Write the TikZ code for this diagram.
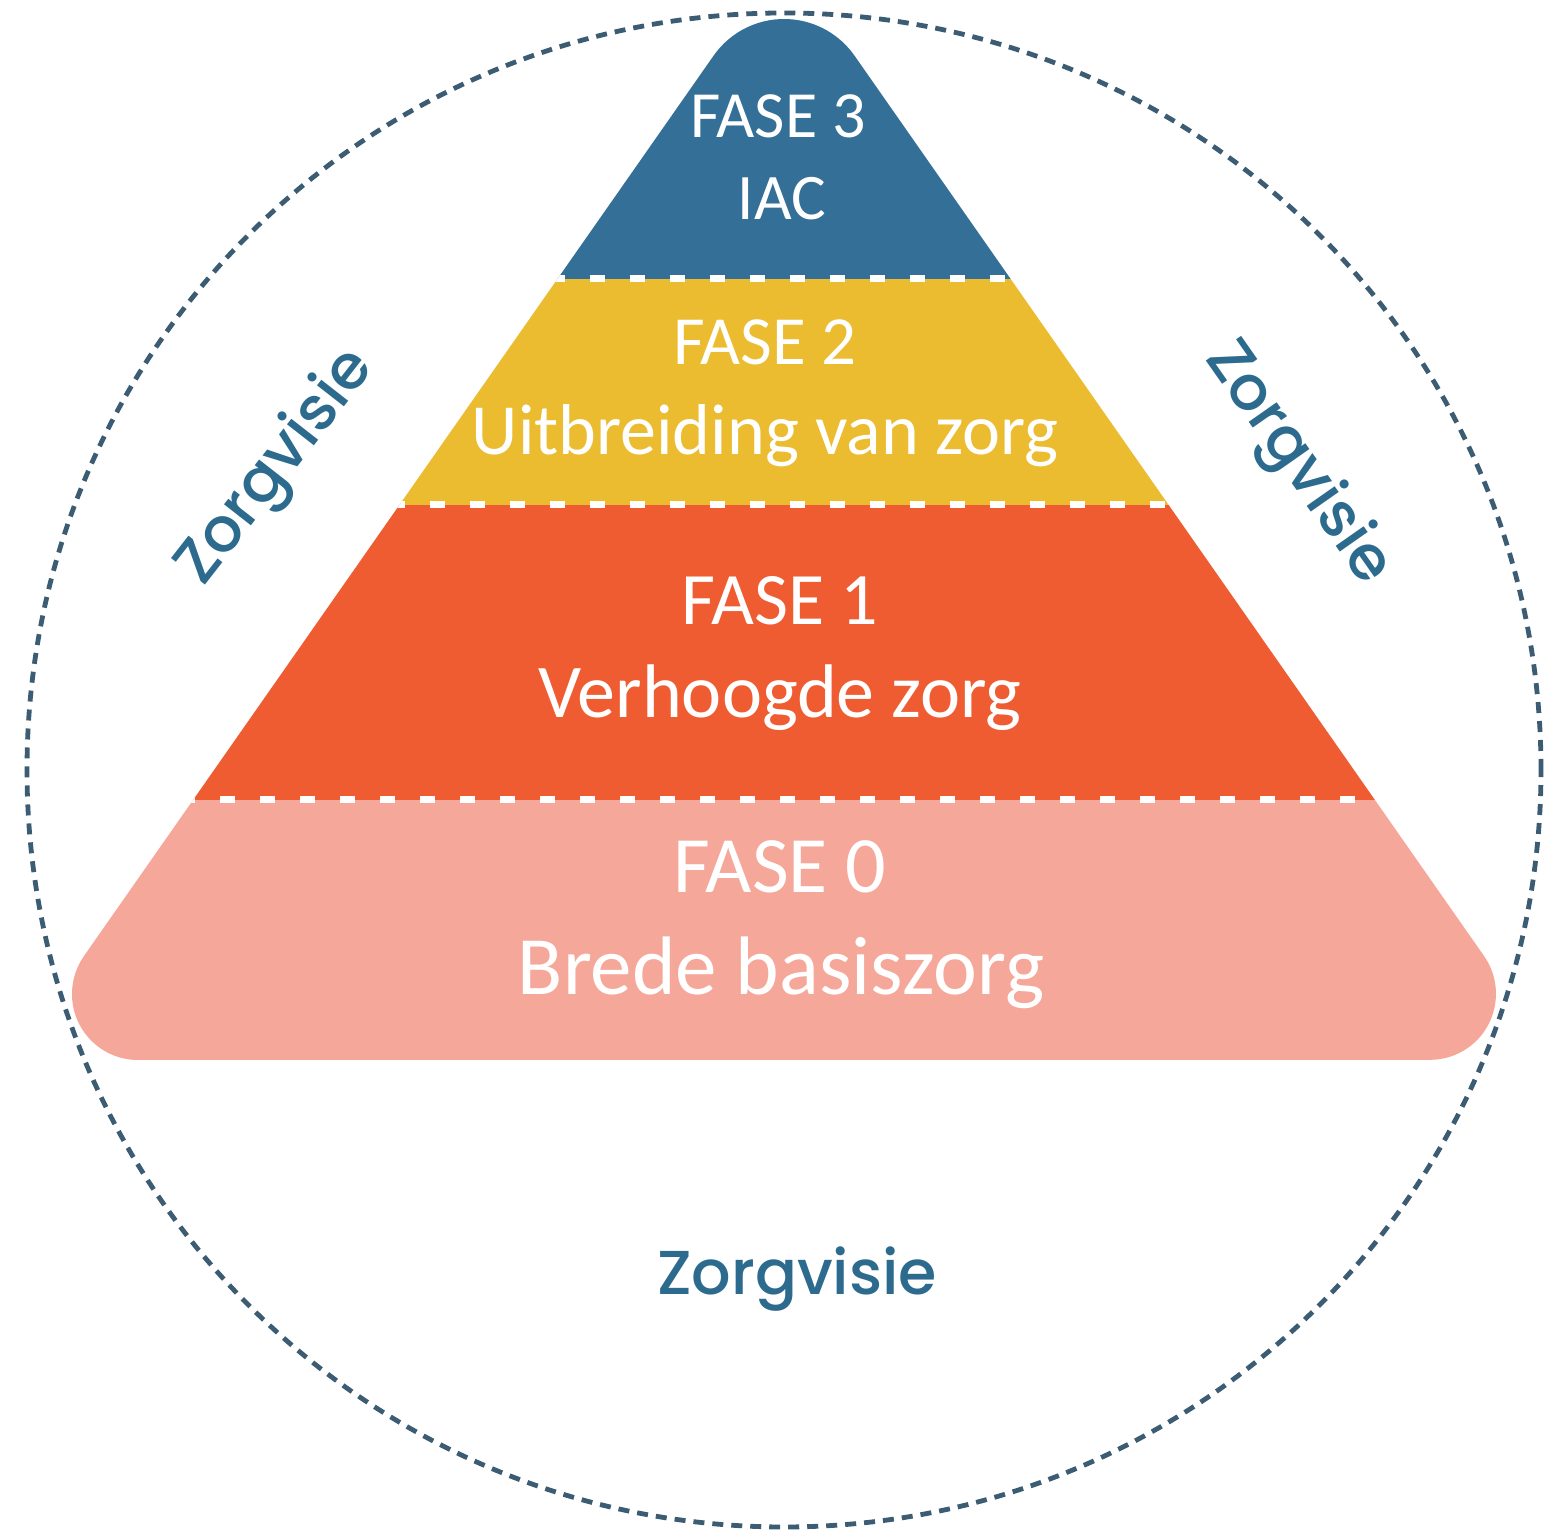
\documentclass[tikz,border=0pt]{standalone}
\usepackage{fontspec}
\setmainfont{Carlito}
\newfontfamily\zvfont{Poppins}[UprightFont=*-Medium]
\definecolor{lblue}{HTML}{336F96}
\definecolor{lyellow}{HTML}{EBBC2F}
\definecolor{lorange}{HTML}{F05C32}
\definecolor{lpink}{HTML}{F5A79A}
\definecolor{zvcol}{HTML}{2C6A8E}
\definecolor{ringcol}{HTML}{3B5C72}
\tikzset{
  phase/.style={text=white, inner sep=0pt, anchor=base},
  zv/.style={text=zvcol, inner sep=0pt, font=\zvfont\fontsize{62}{62}\selectfont},
  sep/.style={draw=white, line width=7, dash pattern=on 15 off 25}
}
\begin{document}
\begin{tikzpicture}[x=1pt,y=1pt]
\useasboundingbox (0,0) rectangle (1552,1530);
\fill[white] (0,0) rectangle (1552,1530);
% dashed ring
\draw[ringcol, line width=4.8, dash pattern=on 11 off 8] (784,760) circle[radius=757];
% pyramid
\begin{scope}
\clip (84,574) -- (713.6,1474.3) arc[start angle=145,end angle=35,radius=86]
  -- (1484,574) arc[start angle=35,end angle=-90,radius=66]
  -- (138,470) arc[start angle=270,end angle=145,radius=66] -- cycle;
\fill[lpink] (0,0) rectangle (1552,730);
\fill[lorange] (0,730) rectangle (1552,1025);
\fill[lyellow] (0,1025) rectangle (1552,1251);
\fill[lblue] (0,1251) rectangle (1552,1530);
\draw[sep] (180,730) -- (1390,730);
\draw[sep] (390,1025) -- (1180,1025);
\draw[sep] (550,1251) -- (1020,1251);
\end{scope}
% texts
\node[phase, font=\fontsize{66}{66}\selectfont] (f3) at (778,1392) {FASE 3};
\node[phase, font=\fontsize{65}{65}\selectfont] (f3b) at (782,1310) {IAC};
\node[phase, font=\fontsize{69}{69}\selectfont] (f2) at (765,1165) {FASE 2};
\node[phase, font=\fontsize{72}{72}\selectfont] (f2b) at (765,1075) {Uitbreiding van zorg};
\node[phase, font=\fontsize{74}{74}\selectfont] (f1) at (780,905) {FASE 1};
\node[phase, font=\fontsize{76}{76}\selectfont] (f1b) at (780,812) {Verhoogde zorg};
\node[phase, font=\fontsize{80}{80}\selectfont] (f0) at (780,637) {FASE 0};
\node[phase, font=\fontsize{83}{83}\selectfont] (f0b) at (781,535) {Brede basiszorg};
\node[zv, anchor=base] (zb) at (797,235) {Zorgvisie};
\node[zv, rotate=52] (zl) at (277,1062) {Zorgvisie};
\node[zv, rotate=-55] (zr) at (1297,1066) {Zorgvisie};
\end{tikzpicture}
\end{document}
